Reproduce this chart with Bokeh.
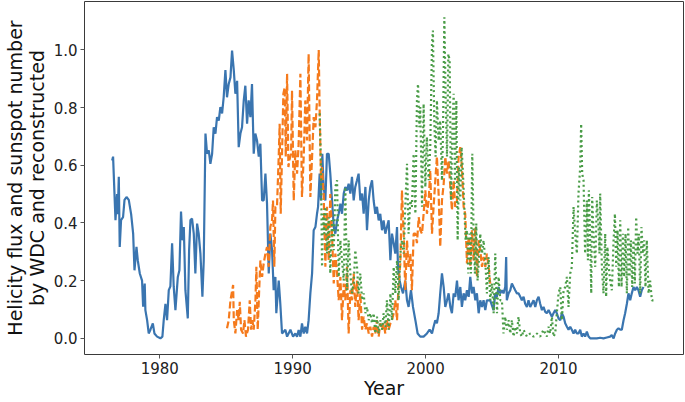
from bokeh.plotting import figure
from bokeh.models import Range1d, FixedTicker, PrintfTickFormatter
from bokeh.embed import file_html
from bokeh.resources import INLINE

# ---- data ----
blue_year = [1976.42, 1976.49, 1976.67, 1976.79, 1976.84, 1976.92, 1976.99, 1977.09, 1977.24, 1977.35,
             1977.5, 1977.67, 1977.85, 1978.0, 1978.1, 1978.25, 1978.35, 1978.5, 1978.67, 1978.75,
             1978.87, 1978.92, 1979.05, 1979.17, 1979.3, 1979.48, 1979.6, 1979.8, 1980.05, 1980.2,
             1980.3, 1980.43, 1980.55, 1980.68, 1980.8, 1980.93, 1981.05, 1981.18, 1981.36, 1981.48,
             1981.6, 1981.71, 1981.81, 1981.93, 1982.11, 1982.21, 1982.31, 1982.43, 1982.56, 1982.68,
             1982.81, 1982.93, 1983.06, 1983.21, 1983.31, 1983.44, 1983.56, 1983.69, 1983.81, 1983.94,
             1984.06, 1984.19, 1984.31, 1984.44, 1984.56, 1984.69, 1984.81, 1984.94, 1985.06, 1985.19,
             1985.32, 1985.44, 1985.57, 1985.69, 1985.82, 1985.94, 1986.07, 1986.19, 1986.32, 1986.44,
             1986.57, 1986.69, 1986.82, 1986.94, 1987.07, 1987.19, 1987.32, 1987.45, 1987.57, 1987.7,
             1987.82, 1987.95, 1988.07, 1988.2, 1988.32, 1988.45, 1988.57, 1988.7, 1988.77, 1988.95,
             1989.07, 1989.2, 1989.45, 1989.58, 1989.83,
             1990.03, 1990.2, 1990.33, 1990.45, 1990.58, 1990.7, 1990.83, 1990.95, 1991.08, 1991.2,
             1991.33, 1991.46, 1991.58, 1991.71, 1991.83, 1991.91, 1992.03, 1992.13, 1992.23, 1992.33,
             1992.46, 1992.58, 1992.71, 1992.83, 1992.96, 1993.09, 1993.21, 1993.34, 1993.46, 1993.59,
             1993.71, 1993.84, 1993.96, 1994.09, 1994.21, 1994.34, 1994.46, 1994.59, 1994.71, 1994.84,
             1994.96, 1995.09, 1995.22, 1995.34, 1995.47, 1995.59, 1995.72, 1995.84, 1995.97, 1996.09,
             1996.22, 1996.34, 1996.47, 1996.59, 1996.72, 1996.84, 1996.97, 1997.09, 1997.22, 1997.35,
             1997.47, 1997.6, 1997.72, 1997.85, 1997.92, 1998.05, 1998.15, 1998.3, 1998.47, 1998.6,
             1998.72, 1998.9, 1999.05, 1999.23, 1999.4, 1999.6, 1999.85, 2000.1, 2000.3, 2000.48,
             2000.6, 2000.73, 2000.85, 2000.98, 2001.1, 2001.23, 2001.36, 2001.48, 2001.61, 2001.73,
             2001.86, 2001.98, 2002.11, 2002.23, 2002.36, 2002.48, 2002.61, 2002.73, 2002.86, 2002.98,
             2003.11, 2003.24, 2003.36, 2003.49, 2003.61, 2003.74, 2003.86, 2003.99, 2004.11, 2004.24,
             2004.36, 2004.49, 2004.61,
             2004.86, 2005.11, 2005.24, 2005.36, 2005.49, 2005.61, 2005.74, 2005.86, 2005.99, 2006.06,
             2006.11, 2006.24, 2006.37, 2006.49, 2006.62, 2006.74, 2006.87, 2006.99, 2007.12, 2007.24,
             2007.37, 2007.49, 2007.62, 2007.74, 2007.87, 2007.99, 2008.12, 2008.25, 2008.37, 2008.5,
             2008.62, 2008.75, 2008.87, 2009.0, 2009.12, 2009.25, 2009.37, 2009.5, 2009.62, 2009.75,
             2009.87, 2010.0, 2010.13, 2010.25, 2010.38, 2010.5, 2010.63, 2010.75, 2010.88, 2011.0,
             2011.13, 2011.25, 2011.38, 2011.5, 2011.63, 2011.75, 2011.88, 2012.0, 2012.13, 2012.26,
             2012.38, 2012.63, 2012.88, 2013.13, 2013.38, 2013.63, 2013.88, 2014.0, 2014.14, 2014.26,
             2014.39, 2014.51, 2014.64, 2014.76, 2014.89, 2015.01, 2015.14, 2015.26, 2015.39, 2015.51,
             2015.64, 2015.76, 2015.89, 2016.01, 2016.14, 2016.26, 2016.39]
blue_val = [0.617, 0.63, 0.41, 0.50, 0.43, 0.56, 0.317, 0.41, 0.42, 0.48,
            0.49, 0.48, 0.43, 0.363, 0.236, 0.317, 0.27, 0.225, 0.2, 0.11,
            0.19, 0.098, 0.063, 0.017, 0.03, 0.052, 0.017, 0.006, 0.0, 0.006,
            0.063, 0.12, 0.063, 0.167, 0.18, 0.33, 0.18, 0.098, 0.213, 0.236,
            0.44, 0.34, 0.386, 0.167, 0.069, 0.306, 0.41, 0.415, 0.363, 0.225,
            0.398, 0.363, 0.294, 0.144, 0.27, 0.71, 0.64, 0.652, 0.605, 0.64,
            0.732, 0.71, 0.767, 0.755, 0.802, 0.78, 0.836, 0.93, 0.836, 0.882,
            0.905, 0.998, 0.93, 0.848, 0.893, 0.663, 0.71, 0.732, 0.825, 0.876,
            0.744, 0.825, 0.767, 0.882, 0.64, 0.71, 0.686, 0.63, 0.675, 0.478,
            0.478, 0.571, 0.467, 0.225, 0.363, 0.306, 0.167, 0.213, 0.087, 0.2,
            0.12, 0.017, 0.03, 0.006, 0.03,
            0.006, 0.017, 0.006, 0.029, 0.006, 0.052, 0.017, 0.04, 0.017, 0.063,
            0.156, 0.225, 0.375, 0.386, 0.432, 0.456, 0.571, 0.478, 0.64, 0.525,
            0.478, 0.64, 0.64, 0.571, 0.478, 0.386, 0.363, 0.409, 0.432, 0.467,
            0.432, 0.502, 0.525, 0.513, 0.536, 0.502, 0.56, 0.478, 0.525, 0.548,
            0.571, 0.478, 0.502, 0.432, 0.525, 0.375, 0.478, 0.525, 0.548, 0.478,
            0.432, 0.456, 0.409, 0.432, 0.375, 0.409, 0.363, 0.386, 0.409, 0.271,
            0.363, 0.329, 0.294, 0.386, 0.248, 0.2, 0.178, 0.156, 0.2, 0.132,
            0.109, 0.167, 0.109, 0.063, 0.017, 0.006, 0.006, 0.017, 0.03, 0.017,
            0.04, 0.063, 0.052, 0.087, 0.156, 0.225, 0.178, 0.109, 0.132, 0.156,
            0.109, 0.087, 0.156, 0.144, 0.2, 0.132, 0.178, 0.109, 0.156, 0.132,
            0.167, 0.144, 0.213, 0.156, 0.178, 0.132, 0.156, 0.087, 0.132, 0.109,
            0.132, 0.098, 0.132,
            0.132, 0.098, 0.156, 0.144, 0.178, 0.156, 0.167, 0.156, 0.178, 0.282,
            0.132, 0.156, 0.167, 0.19, 0.178, 0.167, 0.156, 0.156, 0.144, 0.132,
            0.144, 0.12, 0.109, 0.132, 0.109, 0.12, 0.132, 0.109, 0.132, 0.144,
            0.12, 0.098, 0.109, 0.092, 0.087, 0.098, 0.087, 0.075, 0.087, 0.098,
            0.087, 0.069, 0.063, 0.087, 0.075, 0.052, 0.04, 0.03, 0.04, 0.03,
            0.017, 0.03, 0.017, 0.017, 0.03, 0.006, 0.017, 0.006, 0.023, 0.006,
            0.0, 0.0, 0.0, 0.002, 0.0, 0.003, 0.006, 0.011, 0.0, 0.017,
            0.03, 0.035, 0.03, 0.03, 0.063, 0.087, 0.12, 0.156, 0.132, 0.156,
            0.178, 0.167, 0.178, 0.167, 0.144, 0.167, 0.178]

orange_year = [1985.06, 1985.19, 1985.32, 1985.52, 1985.57, 1985.69, 1985.82, 1985.94, 1986.02, 1986.12,
               1986.27, 1986.37, 1986.49, 1986.64, 1986.77, 1986.87, 1986.97, 1987.07, 1987.2, 1987.27,
               1987.37, 1987.47, 1987.57, 1987.7, 1987.82, 1987.95, 1988.07, 1988.2, 1988.32, 1988.45,
               1988.52, 1988.62, 1988.7, 1988.82, 1988.95, 1989.02, 1989.1, 1989.2, 1989.3, 1989.4,
               1989.48, 1989.58, 1989.68, 1989.75, 1989.88, 1989.95,
               1990.08, 1990.2, 1990.33, 1990.45, 1990.58, 1990.7, 1990.83, 1990.95, 1991.08, 1991.2,
               1991.33, 1991.46, 1991.58, 1991.71, 1991.83, 1991.96, 1992.03, 1992.13, 1992.21, 1992.33,
               1992.46, 1992.58, 1992.71, 1992.83, 1992.96, 1993.09, 1993.21, 1993.34, 1993.46, 1993.59,
               1993.71, 1993.84, 1993.96, 1994.09, 1994.21, 1994.34, 1994.46, 1994.59, 1994.71, 1994.84,
               1994.96, 1995.09, 1995.22, 1995.34, 1995.47, 1995.59, 1995.72, 1995.84, 1995.97, 1996.09,
               1996.22, 1996.34, 1996.47, 1996.59, 1996.72, 1996.84, 1996.97, 1997.09, 1997.22, 1997.35,
               1997.47, 1997.6, 1997.72, 1997.85, 1997.97, 1998.1, 1998.22, 1998.35, 1998.47, 1998.6,
               1998.72, 1998.85, 1998.97, 1999.1, 1999.23, 1999.35, 1999.48, 1999.6, 1999.73, 1999.85,
               1999.98, 2000.1, 2000.23, 2000.35, 2000.48, 2000.6, 2000.73, 2000.85, 2000.98, 2001.1,
               2001.23, 2001.36, 2001.48, 2001.61, 2001.73, 2001.86, 2001.98, 2002.11, 2002.23, 2002.36,
               2002.48, 2002.61, 2002.73, 2002.86, 2002.98, 2003.11, 2003.24, 2003.36, 2003.49, 2003.61,
               2003.74, 2003.86, 2003.99, 2004.11, 2004.24, 2004.36, 2004.49, 2004.61, 2004.74, 2004.86]
orange_val = [0.035, 0.063, 0.132, 0.185, 0.063, 0.017, 0.098, 0.063, 0.127, 0.03,
              0.017, 0.063, 0.006, 0.03, 0.132, 0.03, 0.063, 0.03, 0.132, 0.248,
              0.03, 0.156, 0.27, 0.213, 0.26, 0.294, 0.317, 0.248, 0.386, 0.41,
              0.478, 0.248, 0.456, 0.456, 0.63, 0.744, 0.432, 0.64, 0.848, 0.87,
              0.63, 0.917, 0.594, 0.617, 0.64, 0.859,
              0.478, 0.652, 0.571, 0.675, 0.917, 0.49, 0.63, 0.825, 0.686, 0.986,
              0.49, 0.63, 0.767, 0.732, 0.825, 1.0, 0.79, 0.548, 0.594, 0.5,
              0.248, 0.456, 0.27, 0.5, 0.363, 0.19, 0.294, 0.225, 0.132, 0.213,
              0.063, 0.19, 0.132, 0.248, 0.017, 0.167, 0.132, 0.225, 0.109, 0.2,
              0.063, 0.156, 0.03, 0.075, 0.03, 0.052, 0.017, 0.04, 0.006, 0.04,
              0.017, 0.063, 0.006, 0.052, 0.03, 0.052, 0.017, 0.063, 0.03, 0.052,
              0.063, 0.087, 0.132, 0.063, 0.19, 0.26, 0.513, 0.363, 0.167, 0.34,
              0.248, 0.294, 0.167, 0.363, 0.363, 0.33, 0.42, 0.375, 0.363, 0.432,
              0.513, 0.432, 0.478, 0.582, 0.363, 0.456, 0.548, 0.63, 0.5, 0.317,
              0.478, 0.536, 0.63, 0.571, 0.617, 0.525, 0.444, 0.548, 0.456, 0.478,
              0.63, 0.663, 0.594, 0.456, 0.432, 0.26, 0.352, 0.248, 0.375, 0.27,
              0.386, 0.213, 0.34, 0.306, 0.248, 0.282, 0.248, 0.294, 0.248, 0.19]

green_year = [1992.03, 1992.13, 1992.21, 1992.28, 1992.38, 1992.46, 1992.58, 1992.71, 1992.83, 1992.96,
              1993.09, 1993.21, 1993.34, 1993.46, 1993.59, 1993.71, 1993.84, 1993.96, 1994.09, 1994.21,
              1994.34, 1994.46, 1994.59, 1994.71, 1994.84, 1994.96, 1995.09, 1995.22, 1995.34, 1995.47,
              1995.59, 1995.72, 1995.84, 1995.97, 1996.09, 1996.22, 1996.34, 1996.47, 1996.59, 1996.72,
              1996.84, 1996.97, 1997.09, 1997.22, 1997.35, 1997.47, 1997.6, 1997.72, 1997.85, 1997.97,
              1998.1, 1998.22, 1998.35, 1998.47, 1998.6, 1998.72, 1998.85, 1998.97, 1999.1, 1999.23,
              1999.35, 1999.43, 1999.53, 1999.6, 1999.73, 1999.85, 1999.98, 2000.1, 2000.23, 2000.35,
              2000.48, 2000.55, 2000.65, 2000.75, 2000.85, 2000.98, 2001.1, 2001.23, 2001.31, 2001.41,
              2001.51, 2001.61, 2001.71, 2001.81, 2001.91, 2002.01, 2002.11, 2002.21, 2002.31, 2002.41,
              2002.51, 2002.61, 2002.71, 2002.81, 2002.91, 2003.01, 2003.11, 2003.21, 2003.31, 2003.41,
              2003.51, 2003.61, 2003.71, 2003.81, 2003.91, 2004.01, 2004.11, 2004.24, 2004.36, 2004.49,
              2004.61, 2004.74, 2004.86, 2004.99, 2005.12, 2005.24, 2005.37, 2005.49, 2005.62,
              2005.74, 2005.86, 2005.99, 2006.11, 2006.24, 2006.37, 2006.49, 2006.62, 2006.74, 2006.87,
              2006.99, 2007.12, 2007.24, 2007.37, 2007.62, 2007.87, 2008.12, 2008.37, 2008.62, 2008.87,
              2009.12, 2009.25, 2009.37, 2009.5, 2009.62, 2009.75, 2009.87, 2010.0, 2010.13, 2010.25,
              2010.38, 2010.5, 2010.63, 2010.75, 2010.88, 2011.0, 2011.13, 2011.25, 2011.38, 2011.5,
              2011.63, 2011.7, 2011.78, 2011.88, 2012.0, 2012.13, 2012.21, 2012.28, 2012.38, 2012.46,
              2012.53, 2012.63, 2012.76, 2012.88, 2013.01, 2013.08, 2013.13, 2013.26, 2013.38, 2013.51,
              2013.58, 2013.68, 2013.78, 2013.88, 2014.01, 2014.14, 2014.24, 2014.34, 2014.44, 2014.54,
              2014.64, 2014.74, 2014.84, 2014.94, 2015.04, 2015.14, 2015.24, 2015.34, 2015.44, 2015.54,
              2015.64, 2015.74, 2015.84, 2015.94, 2016.04, 2016.14, 2016.24, 2016.34, 2016.44, 2016.54,
              2016.64, 2016.77, 2016.89, 2017.02, 2017.14]
green_val = [0.78, 0.594, 0.248, 0.432, 0.363, 0.456, 0.294, 0.42, 0.225, 0.41,
             0.306, 0.525, 0.548, 0.213, 0.34, 0.27, 0.2, 0.525, 0.167, 0.34,
             0.225, 0.156, 0.19, 0.306, 0.248, 0.156, 0.225, 0.132, 0.156, 0.087,
             0.109, 0.063, 0.087, 0.052, 0.087, 0.017, 0.075, 0.017, 0.063, 0.03,
             0.087, 0.04, 0.132, 0.03, 0.156, 0.063, 0.248, 0.156, 0.27, 0.132,
             0.294, 0.34, 0.294, 0.456, 0.605, 0.363, 0.478, 0.456, 0.64, 0.432,
             0.825, 0.882, 0.732, 0.802, 0.456, 0.813, 0.525, 0.698, 0.548, 0.663,
             1.02, 1.067, 0.755, 0.63, 0.825, 0.686, 0.755, 0.548, 0.721, 1.113,
             0.825, 0.63, 0.986, 0.963, 0.478, 0.709, 0.848, 0.536, 0.825, 0.34,
             0.594, 0.478, 0.663, 0.571, 0.456, 0.34, 0.375, 0.225, 0.363, 0.225,
             0.64, 0.363, 0.225, 0.398, 0.2, 0.27, 0.363, 0.294, 0.34, 0.27,
             0.156, 0.282, 0.132, 0.19, 0.087, 0.294, 0.087, 0.213, 0.132,
             0.132, 0.017, 0.075, 0.03, 0.063, 0.017, 0.063, 0.006, 0.04, 0.017,
             0.075, 0.017, 0.006, 0.029, 0.006, 0.017, 0.006, 0.017, 0.006, 0.03,
             0.006, 0.04, 0.017, 0.075, 0.006, 0.017, 0.087, 0.156, 0.178, 0.063,
             0.167, 0.178, 0.213, 0.109, 0.225, 0.248, 0.456, 0.363, 0.294, 0.502,
             0.594, 0.744, 0.571, 0.548, 0.294, 0.478, 0.271, 0.513, 0.34, 0.156,
             0.49, 0.363, 0.248, 0.478, 0.386, 0.294, 0.502, 0.248, 0.156, 0.363,
             0.144, 0.317, 0.248, 0.2, 0.167, 0.34, 0.432, 0.248, 0.375, 0.178,
             0.409, 0.178, 0.363, 0.213, 0.363, 0.156, 0.386, 0.213, 0.34, 0.178,
             0.34, 0.19, 0.421, 0.294, 0.363, 0.156, 0.386, 0.294, 0.34, 0.178,
             0.34, 0.156, 0.2, 0.132, 0.132]

x_ticks = [1980, 1990, 2000, 2010]
y_ticks = [0.0, 0.2, 0.4, 0.6, 0.8, 1.0]

FONT = "DejaVu Sans"

p = figure(width=685, height=402, output_backend="svg", toolbar_location=None,
           x_range=Range1d(1974.34, 2019.4), y_range=Range1d(-0.056, 1.168),
           min_border_left=84, min_border_right=2, min_border_top=1, min_border_bottom=48)

p.line(blue_year, blue_val, line_color="#3a75b0", line_width=2.2)
p.line(orange_year, orange_val, line_color="#f57a1c", line_width=2.2, line_dash="7 3")
p.line(green_year, green_val, line_color="#4a9c47", line_width=2.2, line_dash="2 3")

p.xgrid.visible = False
p.ygrid.visible = False
p.outline_line_color = "#3a3a3a"
p.outline_line_width = 1
p.background_fill_color = "white"
p.border_fill_color = "white"

for ax in (p.xaxis[0], p.yaxis[0]):
    ax.axis_line_color = None
    ax.major_tick_line_color = "#555555"
    ax.major_tick_out = 4
    ax.major_tick_in = 0
    ax.minor_tick_line_color = None
    ax.major_label_text_font = FONT
    ax.major_label_text_font_size = "15px"
    ax.major_label_text_color = "#222222"
    ax.axis_label_text_font = FONT
    ax.axis_label_text_font_size = "19px"
    ax.axis_label_text_font_style = "normal"
    ax.axis_label_text_color = "#111111"
    ax.major_label_standoff = 3

p.xaxis.ticker = FixedTicker(ticks=x_ticks)
p.yaxis.ticker = FixedTicker(ticks=y_ticks)
p.xaxis.formatter = PrintfTickFormatter(format="%d")
p.yaxis.formatter = PrintfTickFormatter(format="%.1f")
p.xaxis.axis_label = "Year"
p.yaxis.axis_label = "Helicity flux and sunspot number\nby WDC and reconstructed"
p.xaxis.axis_label_standoff = 0
p.yaxis.axis_label_standoff = 3
p.yaxis.axis_label_text_line_height = 1.0

open("out.html", "w").write(file_html(p, INLINE))
